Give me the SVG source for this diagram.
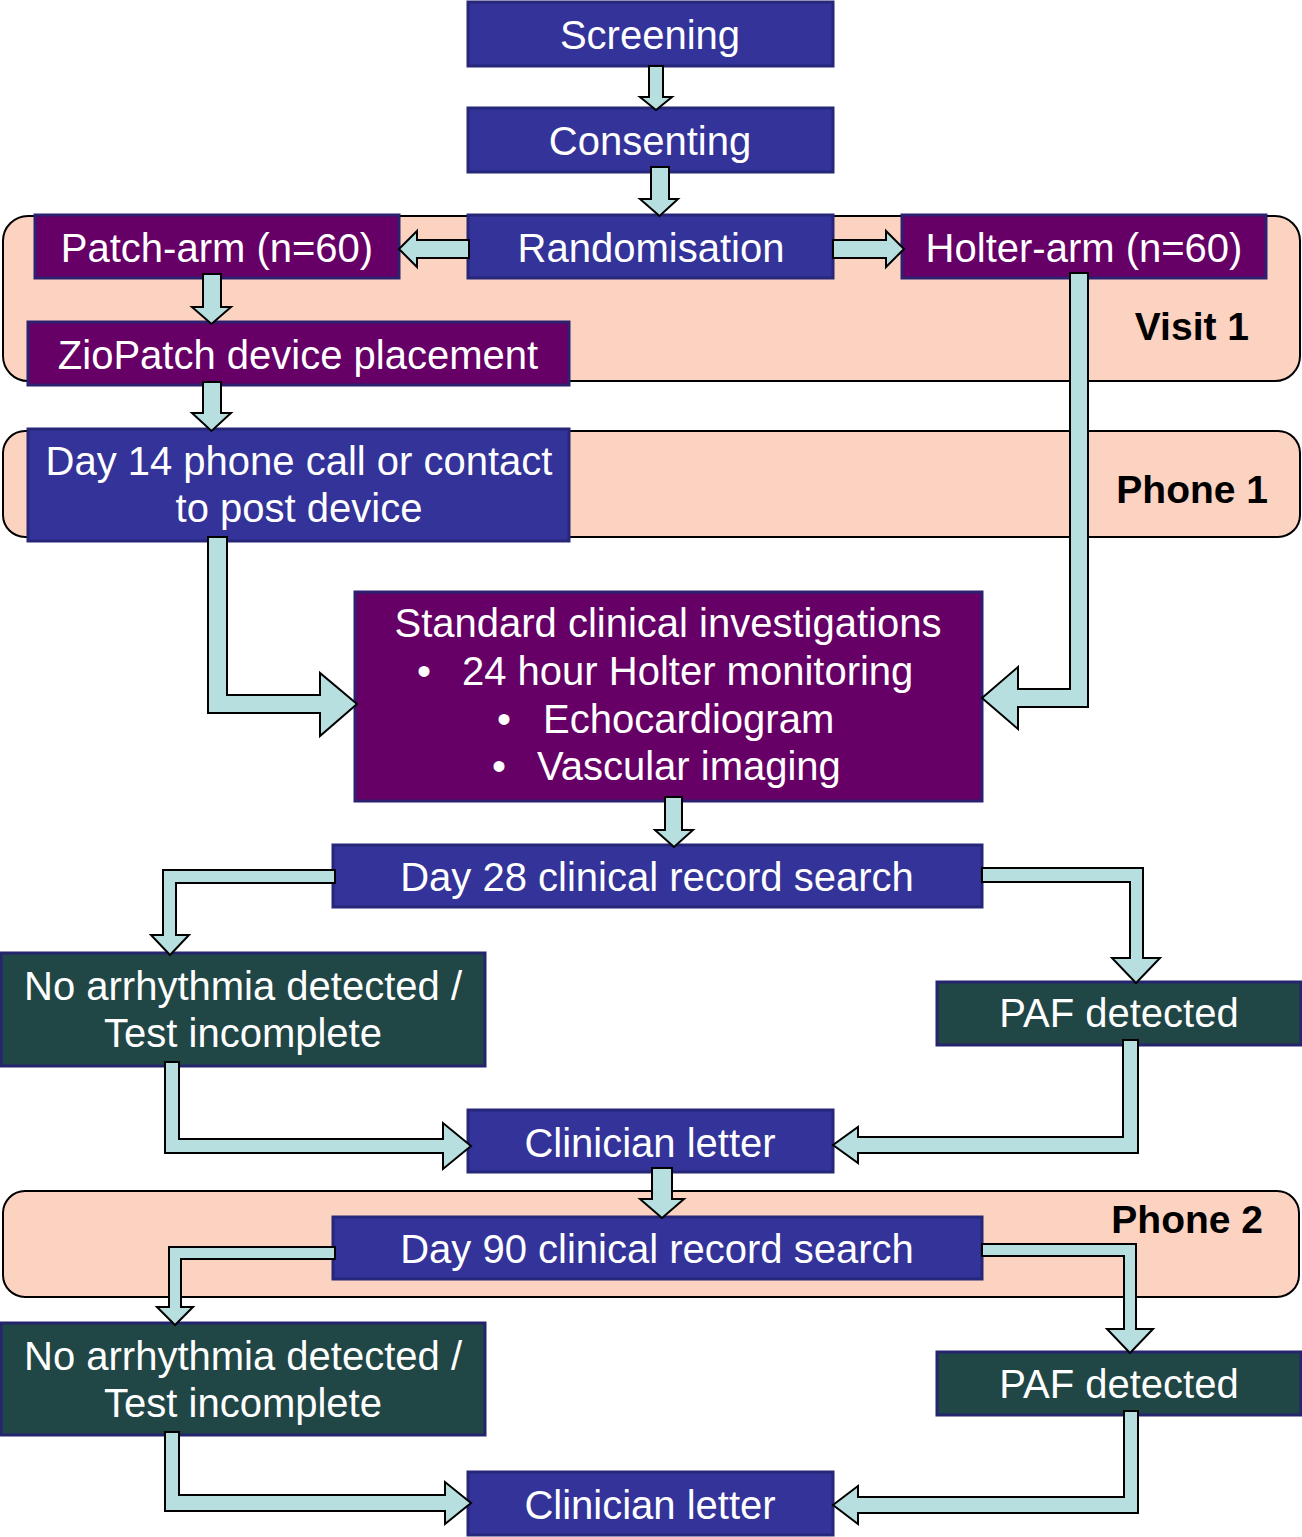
<svg xmlns="http://www.w3.org/2000/svg" width="1302" height="1537" viewBox="0 0 1302 1537">
<style>
.band{fill:#fcd3c1;stroke:#000;stroke-width:2}
.blue{fill:#333399;stroke:#27277a;stroke-width:3}
.purple{fill:#660066;stroke:#2d2070;stroke-width:3}
.green{fill:#214646;stroke:#25256e;stroke-width:3}
.t{font-family:"Liberation Sans",Arial,sans-serif;font-size:40px;fill:#fff;text-anchor:middle}
.ts{font-family:"Liberation Sans",Arial,sans-serif;font-size:40px;fill:#fff}
.lbl{font-family:"Liberation Sans",Arial,sans-serif;font-size:39px;font-weight:bold;fill:#000;text-anchor:end}
.arr{fill:#b7dfe0;stroke:#000;stroke-width:2;stroke-linejoin:miter}
</style>
<g id="bands">
<rect id="visit1" class="band" x="3" y="216" width="1297" height="165" rx="25"/>
<text class="lbl" x="1249" y="340">Visit 1</text>
<rect id="phone1" class="band" x="3" y="431" width="1297" height="106" rx="22"/>
<text class="lbl" x="1268" y="503">Phone 1</text>
<rect id="phone2" class="band" x="3" y="1191" width="1296" height="106" rx="22"/>
<text class="lbl" x="1263" y="1233">Phone 2</text>
</g>
<g id="n-screening"><rect class="blue" x="468" y="2" width="365" height="64"/><text class="t" x="650" y="49">Screening</text></g>
<g id="n-consenting"><rect class="blue" x="468" y="108" width="365" height="64"/><text class="t" x="650" y="155">Consenting</text></g>
<g id="n-randomisation"><rect class="blue" x="468" y="215" width="365" height="63"/><text class="t" x="651" y="262">Randomisation</text></g>
<g id="n-patch"><rect class="purple" x="35" y="215" width="364" height="63"/><text class="t" x="217" y="262">Patch-arm (n=60)</text></g>
<g id="n-holter"><rect class="purple" x="902" y="215" width="364" height="63"/><text class="t" x="1084" y="262">Holter-arm (n=60)</text></g>
<g id="n-ziopatch"><rect class="purple" x="28" y="322" width="541" height="63"/><text class="t" x="298" y="369">ZioPatch device placement</text></g>
<g id="n-day14"><rect class="blue" x="28" y="429" width="541" height="112"/><text class="t" x="299" y="475">Day 14 phone call or contact</text><text class="t" x="299" y="522">to post device</text></g>
<g id="n-standard"><rect class="purple" x="355" y="592" width="627" height="209"/>
<text class="t" x="668" y="637">Standard clinical investigations</text>
<text class="t" x="424" y="685">•</text><text class="ts" x="462" y="685">24 hour Holter monitoring</text>
<text class="t" x="504" y="733">•</text><text class="ts" x="543" y="733">Echocardiogram</text>
<text class="t" x="499" y="780">•</text><text class="ts" x="537" y="780">Vascular imaging</text>
</g>
<g id="n-day28"><rect class="blue" x="333" y="845" width="649" height="62"/><text class="t" x="657" y="891">Day 28 clinical record search</text></g>
<g id="n-noarr1"><rect class="green" x="1" y="953" width="484" height="113"/><text class="t" x="243" y="1000">No arrhythmia detected /</text><text class="t" x="243" y="1047">Test incomplete</text></g>
<g id="n-paf1"><rect class="green" x="937" y="982" width="364" height="63"/><text class="t" x="1119" y="1027">PAF detected</text></g>
<g id="n-clin1"><rect class="blue" x="468" y="1110" width="365" height="62"/><text class="t" x="650" y="1157">Clinician letter</text></g>
<g id="n-day90"><rect class="blue" x="333" y="1217" width="649" height="62"/><text class="t" x="657" y="1263">Day 90 clinical record search</text></g>
<g id="n-noarr2"><rect class="green" x="1" y="1323" width="484" height="112"/><text class="t" x="243" y="1370">No arrhythmia detected /</text><text class="t" x="243" y="1417">Test incomplete</text></g>
<g id="n-paf2"><rect class="green" x="937" y="1352" width="364" height="63"/><text class="t" x="1119" y="1398">PAF detected</text></g>
<g id="n-clin2"><rect class="blue" x="468" y="1472" width="365" height="63"/><text class="t" x="650" y="1519">Clinician letter</text></g>
<g id="connectors">
<polygon class="arr" points="649,66 663,66 663,97 672,97 656,110 640,97 649,97"/>
<polygon class="arr" points="651,167 669,167 669,199 678,199 659.5,216 640,199 651,199"/>
<polygon class="arr" points="469,240 417,240 417,231 399,249 417,267 417,258 469,258"/>
<polygon class="arr" points="833,240 886,240 886,231 904,249 886,267 886,258 833,258"/>
<polygon class="arr" points="203,274 221,274 221,307 231,307 211.5,324 192,307 203,307"/>
<polygon class="arr" points="203,382 221,382 221,413 231,413 211.5,431 192,413 203,413"/>
<polygon class="arr" points="208,537 227,537 227,695 320,695 320,673 357,704 320,736 320,713 208,713"/>
<polygon class="arr" points="1070,273 1088,273 1088,707 1018,707 1018,729 982,698 1018,667 1018,689 1070,689"/>
<polygon class="arr" points="665,797 682,797 682,830 693,830 674,847 655,830 665,830"/>
<polygon class="arr" points="335,870 163,870 163,935 151,935 170,955 189,935 176,935 176,883 335,883"/>
<polygon class="arr" points="982,868 1143,868 1143,958 1160,958 1136,983 1112,958 1130,958 1130,882 982,882"/>
<polygon class="arr" points="165,1062 179,1062 179,1139 443,1139 443,1123 471,1146 443,1169 443,1153 165,1153"/>
<polygon class="arr" points="1123,1040 1138,1040 1138,1153 858,1153 858,1163 833,1145 858,1127 858,1137 1123,1137"/>
<polygon class="arr" points="652,1168 672,1168 672,1199 684,1199 662,1218 640,1199 652,1199"/>
<polygon class="arr" points="335,1247 169,1247 169,1307 157,1307 175,1325 193,1307 181,1307 181,1259 335,1259"/>
<polygon class="arr" points="982,1244 1136,1244 1136,1329 1153,1329 1130,1353 1107,1329 1124,1329 1124,1256 982,1256"/>
<polygon class="arr" points="165,1432 179,1432 179,1495 445,1495 445,1482 471,1503 445,1524 445,1511 165,1511"/>
<polygon class="arr" points="1124,1411 1138,1411 1138,1513 858,1513 858,1524 833,1505 858,1486 858,1497 1124,1497"/>
</g>
</svg>
